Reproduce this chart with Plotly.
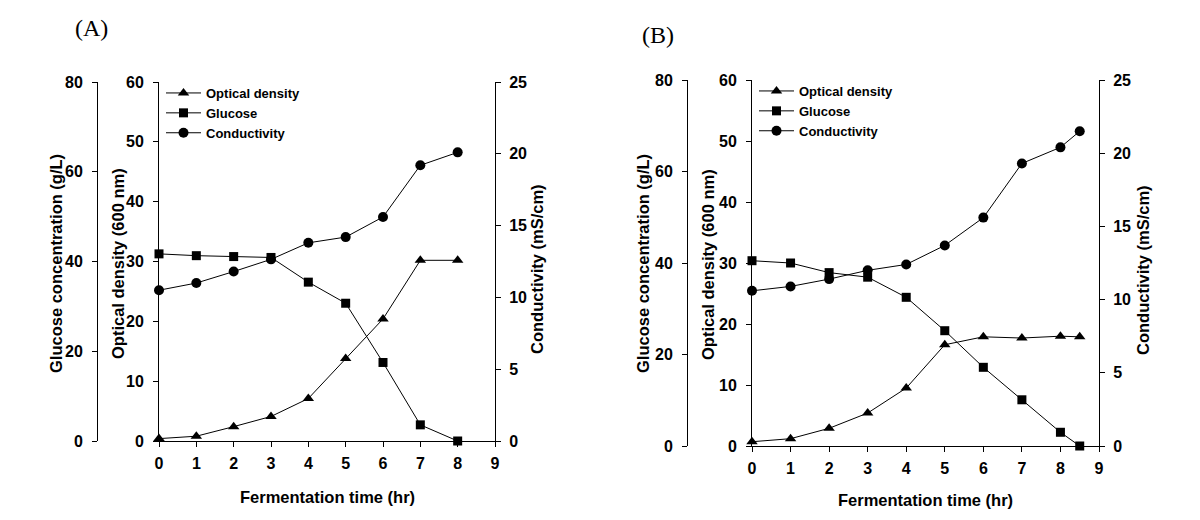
import plotly.graph_objects as go

# ---- data ----
time_a = [0, 1, 2, 3, 4, 5, 6, 7, 8]
od_a = [0.4, 0.8, 2.4, 4.1, 7.1, 13.8, 20.4, 30.2, 30.2]
glucose_a = [41.7, 41.3, 41.1, 40.9, 35.4, 30.7, 17.5, 3.6, 0.0]
cond_a = [10.5, 11.0, 11.8, 12.65, 13.8, 14.2, 15.6, 19.2, 20.1]

time_b = [0, 1, 2, 3, 4, 5, 6, 7, 8, 8.5]
od_b = [0.7, 1.2, 2.9, 5.4, 9.5, 16.6, 17.9, 17.7, 18.0, 17.9]
glucose_b = [40.5, 40.0, 37.9, 36.9, 32.5, 25.2, 17.2, 10.1, 3.0, 0.0]
cond_b = [10.6, 10.9, 11.4, 12.0, 12.4, 13.7, 15.6, 19.3, 20.4, 21.5]

series_names = ["Optical density", "Glucose", "Conductivity"]
x_ticks = list(range(0, 10))

W, H = 1200, 520
FONT = "Liberation Sans, Arial, sans-serif"
TICKF = dict(family=FONT, size=16, color="black", weight="bold")
TITLEF = dict(family=FONT, size=16.5, color="black", weight="bold")
SERIF = dict(family="Liberation Serif, Times New Roman, serif", size=24, color="black")


def px(x):
    return x / W


def py(y):
    return 1 - y / H


fig = go.Figure()

symbols = ["triangle-up", "square", "circle"]
sizes = [10, 9, 10]


def add_panel(t, od, glu, cond, xa, ya, legend):
    for name, vals, yax, sym, sz in zip(series_names, [od, glu, cond], ya, symbols, sizes):
        fig.add_trace(go.Scatter(
            x=t, y=vals, name=name, mode="lines+markers",
            xaxis=xa, yaxis=yax, legend=legend,
            line=dict(color="black", width=1),
            marker=dict(symbol=sym, size=sz, color="black"),
            cliponaxis=False,
        ))


add_panel(time_a, od_a, glucose_a, cond_a, "x", ["y", "y2", "y3"], "legend")
add_panel(time_b, od_b, glucose_b, cond_b, "x2", ["y4", "y5", "y6"], "legend2")

common = dict(showgrid=False, zeroline=False, showline=True, linecolor="black",
              linewidth=1, ticks="outside", ticklen=5, tickwidth=1, tickcolor="black",
              tickfont=TICKF, automargin=False, ticklabelposition="outside")

# Panel A geometry
ax_l, ax_r, ay_b, ay_t, glu_x_a = 159, 495, 441, 82, 97
# Panel B geometry
bx_l, bx_r, by_b, by_t, glu_x_b = 752, 1099, 446, 80, 687

LEGF = dict(family=FONT, size=13, color="black", weight="bold")

fig.update_layout(
    width=W, height=H, template="none",
    margin=dict(l=0, r=0, t=0, b=0),
    paper_bgcolor="white", plot_bgcolor="rgba(0,0,0,0)",
    font=dict(family=FONT, color="black"),
    xaxis=dict(domain=[px(ax_l), px(ax_r)], range=[0, 9], tickvals=x_ticks,
               anchor="y", ticklabelstandoff=3, **common),
    yaxis=dict(domain=[py(ay_b), py(ay_t)], range=[0, 60], dtick=10, anchor="x",
               ticklabelstandoff=6, **common),
    yaxis2=dict(range=[0, 80], dtick=20, overlaying="y", anchor="free",
                position=px(glu_x_a), side="left", ticklabelstandoff=6, **common),
    yaxis3=dict(range=[0, 25], dtick=5, overlaying="y", anchor="x", side="right",
                ticklabelstandoff=5, **common),
    xaxis2=dict(domain=[px(bx_l), px(bx_r)], range=[0, 9], tickvals=x_ticks,
                anchor="y4", ticklabelstandoff=3, **common),
    yaxis4=dict(domain=[py(by_b), py(by_t)], range=[0, 60], dtick=10, anchor="x2",
                ticklabelstandoff=6, **common),
    yaxis5=dict(range=[0, 80], dtick=20, overlaying="y4", anchor="free",
                position=px(glu_x_b), side="left", ticklabelstandoff=6, **common),
    yaxis6=dict(range=[0, 25], dtick=5, overlaying="y4", anchor="x2", side="right",
                ticklabelstandoff=5, **common),
    legend=dict(x=px(161), y=py(78), xanchor="left", yanchor="top",
                bgcolor="rgba(0,0,0,0)", tracegroupgap=0, itemwidth=35, font=LEGF),
    legend2=dict(x=px(754), y=py(76), xanchor="left", yanchor="top",
                 bgcolor="rgba(0,0,0,0)", tracegroupgap=0, itemwidth=35, font=LEGF),
    showlegend=True,
)

annos = [
    dict(text="(A)", x=px(91), y=py(28), font=SERIF),
    dict(text="(B)", x=px(658), y=py(35), font=SERIF),
    dict(text="Glucose concentration (g/L)", x=px(56), y=py(264), textangle=-90, font=TITLEF),
    dict(text="Optical density (600 nm)", x=px(118), y=py(264), textangle=-90, font=TITLEF),
    dict(text="Conductivity (mS/cm)", x=px(537), y=py(269), textangle=-90, font=TITLEF),
    dict(text="Fermentation time (hr)", x=px(327), y=py(497), font=TITLEF),
    dict(text="Glucose concentration (g/L)", x=px(643), y=py(264), textangle=-90, font=TITLEF),
    dict(text="Optical density (600 nm)", x=px(708), y=py(265), textangle=-90, font=TITLEF),
    dict(text="Conductivity (mS/cm)", x=px(1143), y=py(270), textangle=-90, font=TITLEF),
    dict(text="Fermentation time (hr)", x=px(925), y=py(500), font=TITLEF),
]
for a in annos:
    fig.add_annotation(xref="paper", yref="paper", showarrow=False,
                       xanchor="center", yanchor="middle", **a)

fig.write_html("out.html", config={"displayModeBar": False},
               post_script="document.body.style.margin='0';document.body.style.padding='0';")
